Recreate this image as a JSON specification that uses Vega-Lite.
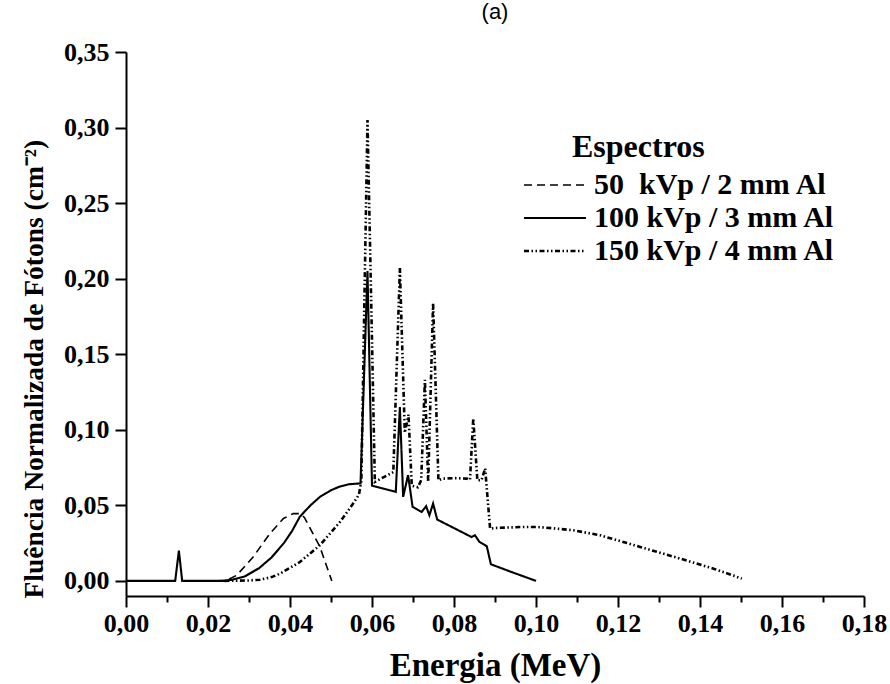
{
  "$schema": "https://vega.github.io/schema/vega-lite/v6.json",
  "autosize": {"type": "none"},
  "padding": {"left": 126, "top": 52, "right": 26, "bottom": 88},
  "width": 738,
  "height": 544,
  "background": "white",
  "title": {
    "text": "(a)",
    "font": "Liberation Sans",
    "fontSize": 22,
    "fontWeight": "normal",
    "color": "black",
    "anchor": "middle",
    "offset": 15
  },
  "data": {
    "values": [
      {"s": "50\u00a0 kVp / 2 mm Al", "e": 0.0220, "f": 0.0},
      {"s": "50\u00a0 kVp / 2 mm Al", "e": 0.0245, "f": 0.0003},
      {"s": "50\u00a0 kVp / 2 mm Al", "e": 0.0270, "f": 0.0037},
      {"s": "50\u00a0 kVp / 2 mm Al", "e": 0.0310, "f": 0.0158},
      {"s": "50\u00a0 kVp / 2 mm Al", "e": 0.0351, "f": 0.0313},
      {"s": "50\u00a0 kVp / 2 mm Al", "e": 0.0384, "f": 0.0413},
      {"s": "50\u00a0 kVp / 2 mm Al", "e": 0.0408, "f": 0.0446},
      {"s": "50\u00a0 kVp / 2 mm Al", "e": 0.0425, "f": 0.0445},
      {"s": "50\u00a0 kVp / 2 mm Al", "e": 0.0435, "f": 0.0420},
      {"s": "50\u00a0 kVp / 2 mm Al", "e": 0.0473, "f": 0.0225},
      {"s": "50\u00a0 kVp / 2 mm Al", "e": 0.0502, "f": 0.0},

      {"s": "100 kVp / 3 mm Al", "e": 0.0, "f": 0.0},
      {"s": "100 kVp / 3 mm Al", "e": 0.0120, "f": 0.0},
      {"s": "100 kVp / 3 mm Al", "e": 0.0129, "f": 0.020},
      {"s": "100 kVp / 3 mm Al", "e": 0.0137, "f": 0.0},
      {"s": "100 kVp / 3 mm Al", "e": 0.0240, "f": 0.0},
      {"s": "100 kVp / 3 mm Al", "e": 0.0260, "f": 0.0008},
      {"s": "100 kVp / 3 mm Al", "e": 0.0290, "f": 0.0030},
      {"s": "100 kVp / 3 mm Al", "e": 0.0325, "f": 0.0085},
      {"s": "100 kVp / 3 mm Al", "e": 0.0355, "f": 0.0155},
      {"s": "100 kVp / 3 mm Al", "e": 0.0385, "f": 0.0250},
      {"s": "100 kVp / 3 mm Al", "e": 0.0405, "f": 0.0330},
      {"s": "100 kVp / 3 mm Al", "e": 0.0424, "f": 0.0425},
      {"s": "100 kVp / 3 mm Al", "e": 0.0450, "f": 0.0500},
      {"s": "100 kVp / 3 mm Al", "e": 0.0473, "f": 0.0556},
      {"s": "100 kVp / 3 mm Al", "e": 0.0500, "f": 0.0600},
      {"s": "100 kVp / 3 mm Al", "e": 0.0522, "f": 0.0625},
      {"s": "100 kVp / 3 mm Al", "e": 0.0545, "f": 0.0640},
      {"s": "100 kVp / 3 mm Al", "e": 0.0572, "f": 0.0645},
      {"s": "100 kVp / 3 mm Al", "e": 0.0589, "f": 0.205},
      {"s": "100 kVp / 3 mm Al", "e": 0.0600, "f": 0.0630},
      {"s": "100 kVp / 3 mm Al", "e": 0.0658, "f": 0.0589},
      {"s": "100 kVp / 3 mm Al", "e": 0.0668, "f": 0.115},
      {"s": "100 kVp / 3 mm Al", "e": 0.0676, "f": 0.0556},
      {"s": "100 kVp / 3 mm Al", "e": 0.0688, "f": 0.0700},
      {"s": "100 kVp / 3 mm Al", "e": 0.0699, "f": 0.0490},
      {"s": "100 kVp / 3 mm Al", "e": 0.0721, "f": 0.0456},
      {"s": "100 kVp / 3 mm Al", "e": 0.0732, "f": 0.0494},
      {"s": "100 kVp / 3 mm Al", "e": 0.0740, "f": 0.0434},
      {"s": "100 kVp / 3 mm Al", "e": 0.0749, "f": 0.0512},
      {"s": "100 kVp / 3 mm Al", "e": 0.0759, "f": 0.0406},
      {"s": "100 kVp / 3 mm Al", "e": 0.0843, "f": 0.0290},
      {"s": "100 kVp / 3 mm Al", "e": 0.0851, "f": 0.0302},
      {"s": "100 kVp / 3 mm Al", "e": 0.0862, "f": 0.0258},
      {"s": "100 kVp / 3 mm Al", "e": 0.0880, "f": 0.0229},
      {"s": "100 kVp / 3 mm Al", "e": 0.0890, "f": 0.0110},
      {"s": "100 kVp / 3 mm Al", "e": 0.0940, "f": 0.0059},
      {"s": "100 kVp / 3 mm Al", "e": 0.1000, "f": 0.0},

      {"s": "150 kVp / 4 mm Al", "e": 0.0240, "f": 0.0},
      {"s": "150 kVp / 4 mm Al", "e": 0.0300, "f": 0.0003},
      {"s": "150 kVp / 4 mm Al", "e": 0.0327, "f": 0.0008},
      {"s": "150 kVp / 4 mm Al", "e": 0.0355, "f": 0.0025},
      {"s": "150 kVp / 4 mm Al", "e": 0.0376, "f": 0.0048},
      {"s": "150 kVp / 4 mm Al", "e": 0.0424, "f": 0.0125},
      {"s": "150 kVp / 4 mm Al", "e": 0.0473, "f": 0.0236},
      {"s": "150 kVp / 4 mm Al", "e": 0.0522, "f": 0.0390},
      {"s": "150 kVp / 4 mm Al", "e": 0.0554, "f": 0.0512},
      {"s": "150 kVp / 4 mm Al", "e": 0.0568, "f": 0.0570},
      {"s": "150 kVp / 4 mm Al", "e": 0.0574, "f": 0.0660},
      {"s": "150 kVp / 4 mm Al", "e": 0.0589, "f": 0.305},
      {"s": "150 kVp / 4 mm Al", "e": 0.0607, "f": 0.0655},
      {"s": "150 kVp / 4 mm Al", "e": 0.0652, "f": 0.0720},
      {"s": "150 kVp / 4 mm Al", "e": 0.0668, "f": 0.207},
      {"s": "150 kVp / 4 mm Al", "e": 0.0680, "f": 0.0980},
      {"s": "150 kVp / 4 mm Al", "e": 0.0689, "f": 0.110},
      {"s": "150 kVp / 4 mm Al", "e": 0.0697, "f": 0.0630},
      {"s": "150 kVp / 4 mm Al", "e": 0.0712, "f": 0.0620},
      {"s": "150 kVp / 4 mm Al", "e": 0.0720, "f": 0.0666},
      {"s": "150 kVp / 4 mm Al", "e": 0.0729, "f": 0.133},
      {"s": "150 kVp / 4 mm Al", "e": 0.0737, "f": 0.0655},
      {"s": "150 kVp / 4 mm Al", "e": 0.0749, "f": 0.184},
      {"s": "150 kVp / 4 mm Al", "e": 0.0762, "f": 0.0666},
      {"s": "150 kVp / 4 mm Al", "e": 0.0774, "f": 0.0677},
      {"s": "150 kVp / 4 mm Al", "e": 0.0800, "f": 0.0680},
      {"s": "150 kVp / 4 mm Al", "e": 0.0831, "f": 0.0677},
      {"s": "150 kVp / 4 mm Al", "e": 0.0839, "f": 0.0670},
      {"s": "150 kVp / 4 mm Al", "e": 0.0847, "f": 0.1075},
      {"s": "150 kVp / 4 mm Al", "e": 0.0857, "f": 0.0666},
      {"s": "150 kVp / 4 mm Al", "e": 0.0867, "f": 0.0666},
      {"s": "150 kVp / 4 mm Al", "e": 0.0876, "f": 0.0744},
      {"s": "150 kVp / 4 mm Al", "e": 0.0888, "f": 0.0346},
      {"s": "150 kVp / 4 mm Al", "e": 0.0900, "f": 0.0350},
      {"s": "150 kVp / 4 mm Al", "e": 0.0969, "f": 0.0357},
      {"s": "150 kVp / 4 mm Al", "e": 0.1002, "f": 0.0357},
      {"s": "150 kVp / 4 mm Al", "e": 0.1050, "f": 0.0346},
      {"s": "150 kVp / 4 mm Al", "e": 0.1091, "f": 0.0335},
      {"s": "150 kVp / 4 mm Al", "e": 0.1156, "f": 0.0302},
      {"s": "150 kVp / 4 mm Al", "e": 0.1254, "f": 0.0225},
      {"s": "150 kVp / 4 mm Al", "e": 0.1351, "f": 0.0148},
      {"s": "150 kVp / 4 mm Al", "e": 0.1433, "f": 0.0081},
      {"s": "150 kVp / 4 mm Al", "e": 0.1502, "f": 0.0015}
    ]
  },
  "mark": {"type": "line", "color": "black", "strokeCap": "butt", "strokeJoin": "miter"},
  "encoding": {
    "x": {
      "field": "e",
      "type": "quantitative",
      "scale": {"domain": [0, 0.18], "nice": false, "zero": false},
      "axis": {
        "title": "Energia (MeV)",
        "values": [0, 0.01, 0.02, 0.03, 0.04, 0.05, 0.06, 0.07, 0.08, 0.09, 0.1, 0.11, 0.12, 0.13, 0.14, 0.15, 0.16, 0.17, 0.18],
        "labelExpr": "round(datum.value * 100) % 2 == 0 ? replace(format(datum.value, '.2f'), '.', ',') : ''",
        "tickSize": {"condition": {"test": "round(datum.value * 100) % 2 == 1", "value": 6}, "value": 11},
        "labelPadding": 3,
        "titleFontSize": 33,
        "titleBaseline": "alphabetic",
        "titleY": 79
      }
    },
    "y": {
      "field": "f",
      "type": "quantitative",
      "scale": {"domain": [-0.01, 0.35], "nice": false, "zero": false},
      "axis": {
        "title": "Fluência Normalizada de Fótons (cm⁻²)",
        "values": [0, 0.05, 0.1, 0.15, 0.2, 0.25, 0.3, 0.35],
        "labelExpr": "replace(format(datum.value, '.2f'), '.', ',')",
        "tickSize": 11,
        "labelPadding": 6,
        "titleFontSize": 27.5,
        "titleAngle": -90,
        "titleBaseline": "alphabetic",
        "titleAlign": "left",
        "titleX": -84,
        "titleY": 546
      }
    },
    "strokeDash": {
      "field": "s",
      "type": "nominal",
      "scale": {
        "domain": ["50\u00a0 kVp / 2 mm Al", "100 kVp / 3 mm Al", "150 kVp / 4 mm Al"],
        "range": [[8, 5], [1, 0], [5, 2.5, 1.5, 2.5, 1.5, 2.5]]
      },
      "legend": {
        "title": "Espectros",
        "orient": "none",
        "legendX": 446,
        "legendY": 80,
        "padding": 0,
        "titleAnchor": "start",
        "titlePadding": 6,
        "titleFont": "Liberation Serif",
        "titleFontSize": 32,
        "titleFontWeight": "bold",
        "titleColor": "black",
        "labelFont": "Liberation Serif",
        "labelFontSize": 30,
        "labelFontWeight": "bold",
        "labelColor": "black",
        "labelLimit": 400,
        "symbolType": "M-10,0H10",
        "symbolSize": 38.44,
        "symbolStrokeColor": "black",
        "symbolOffset": -32,
        "labelOffset": 24,
        "rowPadding": 3
      }
    },
    "strokeWidth": {
      "field": "s",
      "type": "nominal",
      "scale": {
        "domain": ["50\u00a0 kVp / 2 mm Al", "100 kVp / 3 mm Al", "150 kVp / 4 mm Al"],
        "range": [1.6, 2.6, 1.4]
      },
      "legend": {
        "title": "Espectros",
        "orient": "none",
        "legendX": 446,
        "legendY": 80,
        "padding": 0,
        "titleAnchor": "start",
        "titlePadding": 6,
        "titleFont": "Liberation Serif",
        "titleFontSize": 32,
        "titleFontWeight": "bold",
        "titleColor": "black",
        "labelFont": "Liberation Serif",
        "labelFontSize": 30,
        "labelFontWeight": "bold",
        "labelColor": "black",
        "labelLimit": 400,
        "symbolType": "M-10,0H10",
        "symbolSize": 38.44,
        "symbolStrokeColor": "black",
        "symbolOffset": -32,
        "labelOffset": 24,
        "rowPadding": 3
      }
    }
  },
  "config": {
    "view": {"stroke": null},
    "axis": {
      "grid": false,
      "domainColor": "black",
      "domainWidth": 2,
      "tickColor": "black",
      "tickWidth": 2,
      "labelFont": "Liberation Serif",
      "labelFontSize": 26,
      "labelFontWeight": "bold",
      "labelColor": "black",
      "labelOverlap": false,
      "labelFlush": false,
      "titleFont": "Liberation Serif",
      "titleFontWeight": "bold",
      "titleColor": "black"
    }
  }
}
